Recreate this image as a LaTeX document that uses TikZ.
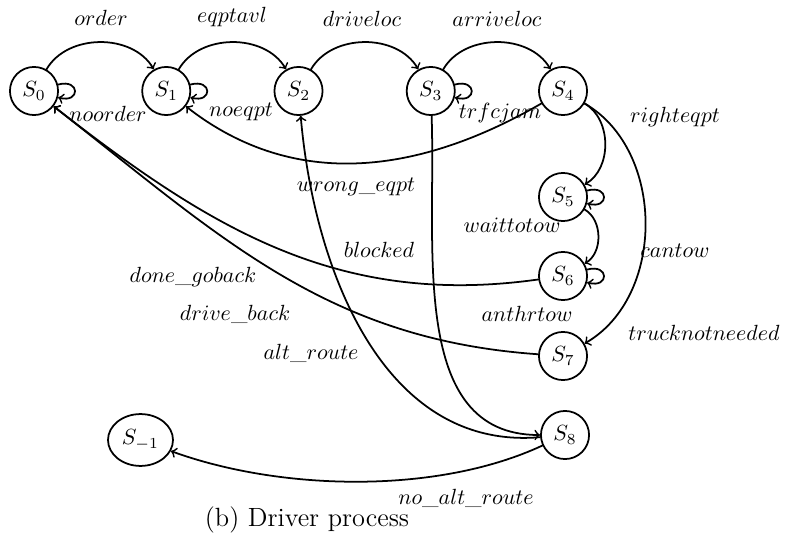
\documentclass[tikz,border=0pt]{standalone}
\usepackage{tikz}
\usetikzlibrary{shapes.geometric}

\begin{document}
\begin{tikzpicture}[thick,cap=round,line join=round,
    state/.style={draw,circle,minimum size=0.77cm,inner sep=1pt},
    every loop/.style={looseness=4.6,min distance=2mm}]
  % The whole picture is 12.656cm x 8.592cm, so that the page
  % keeps the proportions of the drawing we copy.
  \useasboundingbox (0,0) rectangle (12.656,-8.592);

  % A helper command for the transition names:
  % #1 = node name, #2 = (x,y) position, #3 = the label text
  \def\lbl#1#2#3{\node (#1) at (#2) {$#3$};}

  % Top row: S_0 ... S_4, one every 2.116cm
  \foreach \i in {0,...,4}
    \node[state] (s\i) at ({0.544+2.116*\i},-1.456) {$S_{\i}$};

  % The column under S_4, and the failure state on its own
  % (the failure state is a flat ellipse, not a circle)
  \node[state] (s5) at (9.008,-3.152) {$S_5$};
  \node[state] (s6) at (9.008,-4.416) {$S_6$};
  \node[state] (s7) at (9.008,-5.696) {$S_7$};
  \node[state] (s8) at (9.04,-6.96) {$S_8$};
  \node[draw,ellipse,minimum width=1.04cm,minimum height=0.83cm,inner sep=1pt]
    (sm1) at (2.248,-7.04) {$S_{-1}$};

  \path[->]
    % moving forward along the top row
    (s0) edge[bend left=60] (s1)
    (s1) edge[bend left=60] (s2)
    (s2) edge[bend left=60] (s3)
    (s3) edge[bend left=60] (s4)
    % staying in the same state
    (s0) edge[loop right] (s0)
    (s1) edge[loop right] (s1)
    (s3) edge[loop right] (s3)
    (s5) edge[loop right] (s5)
    (s6) edge[loop right] (s6)
    % down the right hand column
    (s4) edge[bend left=60] (s5)
    (s5) edge[bend left=60] (s6)
    (s4) edge[bend left=60] (s7)
    % going back to an earlier state
    (s4) edge[out=210,in=-38,looseness=1.0] (s1)
    (s6) edge[out=188,in=-38] (s0)
    (s7) edge[out=176,in=-38] (s0)
    % the road is blocked
    (s3) edge[out=-88,in=180] (s8)
    (s8) edge[out=185,in=-85] (s2)
    (s8) edge[out=205,in=-20,looseness=0.8] (sm1);

  % Transition names, placed by hand
  \lbl{l01}{1.616,-0.288}{order}
  \lbl{l12}{3.712,-0.272}{eqptavl}
  \lbl{l23}{5.792,-0.304}{driveloc}
  \lbl{l34}{7.952,-0.304}{arriveloc}
  \lbl{l00}{1.728,-1.824}{noorder}
  \lbl{l11}{3.856,-1.792}{noeqpt}
  \lbl{l33}{8.0,-1.808}{trfcjam}
  \lbl{l45}{10.8,-1.872}{righteqpt}
  \lbl{l41}{5.696,-2.992}{wrong\_eqpt}
  \lbl{l55}{8.192,-3.6}{waittotow}
  \lbl{l38}{6.064,-4.0}{blocked}
  \lbl{l56}{10.8,-4.016}{cantow}
  \lbl{l60}{3.088,-4.432}{done\_goback}
  \lbl{l70}{3.76,-5.024}{drive\_back}
  \lbl{l66}{8.432,-5.024}{anthrtow}
  \lbl{l47}{11.264,-5.328}{trucknotneeded}
  \lbl{l82}{4.976,-5.648}{alt\_route}
  \lbl{l8m}{7.456,-7.968}{no\_alt\_route}

  % caption under the graph
  \node (caption) at (4.912,-8.32) {\large (b) Driver process};
\end{tikzpicture}
\end{document}
